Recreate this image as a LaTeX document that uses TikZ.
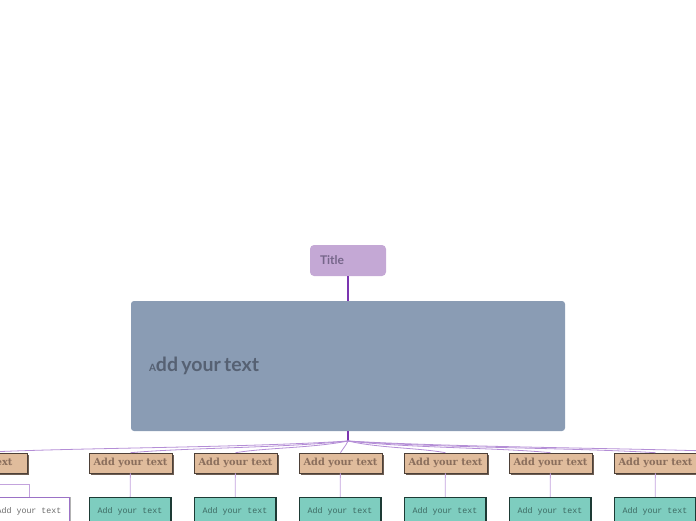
\documentclass[tikz,border=0pt]{standalone}
\usepackage{fontspec}
\setmainfont{Lato}
\newfontfamily\slabfont{DejaVu Serif}
\newfontfamily\monofont{Liberation Mono}
\usetikzlibrary{shadows,calc}
\definecolor{titlefill}{HTML}{C4A8D5}
\definecolor{titletext}{HTML}{76668A}
\definecolor{mainfill}{HTML}{8A9CB4}
\definecolor{maintext}{HTML}{566173}
\definecolor{brownfill}{HTML}{E0BC9C}
\definecolor{browntext}{HTML}{8A6E5C}
\definecolor{brownline}{HTML}{4D4037}
\definecolor{brownshadow}{HTML}{6D5D52}
\definecolor{tealfill}{HTML}{7ECDBF}
\definecolor{tealtext}{HTML}{3E6A63}
\definecolor{tealline}{HTML}{1D3B35}
\definecolor{darkpurple}{HTML}{7B35B0}
\definecolor{lightpurple}{HTML}{C3A3DD}
\definecolor{midpurple}{HTML}{B48ED6}
\definecolor{whiteborder}{HTML}{9B72C6}
\begin{document}
\begin{tikzpicture}[x=1pt,y=-1pt,
  titlebox/.style={fill=titlefill, rounded corners=4pt, minimum width=76pt, minimum height=31pt,
    text width=56pt, inner xsep=10pt, align=left, text=titletext, font=\bfseries\fontsize{12}{12}\selectfont},
  mainbox/.style={fill=mainfill, rounded corners=3pt, minimum width=434pt, minimum height=130pt,
    text width=398pt, inner xsep=18pt, align=left, text=maintext, font=\bfseries},
  brownbox/.style={fill=brownfill, draw=brownline, line width=0.6pt, minimum width=83pt, minimum height=20pt,
    inner sep=0pt, text=browntext, font=\slabfont\bfseries\fontsize{9.8}{10}\selectfont,
    general shadow={fill=brownshadow, shadow xshift=2pt, shadow yshift=-2pt}},
  tealbox/.style={fill=tealfill, draw=tealline, line width=0.5pt, minimum width=81pt, minimum height=28pt,
    inner sep=0pt, text=tealtext, font=\monofont\fontsize{8.3}{9}\selectfont,
    general shadow={fill=tealline, shadow xshift=1.5pt, shadow yshift=0pt}},
  whitebox/.style={fill=white, draw=whiteborder, line width=0.6pt, minimum width=81pt, minimum height=28pt,
    inner sep=0pt, text=gray!85!black, font=\monofont\fontsize{8.3}{9}\selectfont,
    general shadow={fill=gray!60, shadow xshift=1.5pt, shadow yshift=0pt}},
  branch/.style={draw=midpurple, line width=0.8pt},
  stem/.style={draw=darkpurple, line width=1.2pt},
  child/.style={draw=lightpurple, line width=0.8pt}]
\useasboundingbox (0,0) rectangle (696,520);
\clip (0,0) rectangle (696,520);

\node[titlebox] (title) at (348,260.5) {Title};
\node[mainbox] (main) at (348,366) {\raisebox{-2pt}{{\fontsize{10}{10}\selectfont A}{\fontsize{19.5}{20}\selectfont dd your text}}};
\draw[stem] (title.south) -- (main.north);
\coordinate (J) at (348,441);
\draw[stem] (main.south) -- (J);

\node[brownbox, minimum width=103pt] (b0) at (-24.5,463) {Add your text};
\node[brownbox] (b1) at (130.5,463) {Add your text};
\node[brownbox] (b2) at (235.5,463) {Add your text};
\node[brownbox] (b3) at (340.5,463) {Add your text};
\node[brownbox] (b4) at (445.5,463) {Add your text};
\node[brownbox] (b5) at (550.5,463) {Add your text};
\node[brownbox] (b6) at (655.5,463) {Add your text};
\coordinate (b7) at (760.5,453);

\draw[branch] (J) .. controls +(-110,7) and +(90,-5) .. (b0.north);
\draw[branch] (J) .. controls +(-65,7) and +(55,-5) .. (b1.north);
\draw[branch] (J) .. controls +(-35,7) and +(30,-5) .. (b2.north);
\draw[branch] (J) .. controls +(-3,6) and +(3,-5) .. (b3.north);
\draw[branch] (J) .. controls +(30,7) and +(-28,-5) .. (b4.north);
\draw[branch] (J) .. controls +(60,7) and +(-50,-5) .. (b5.north);
\draw[branch] (J) .. controls +(90,7) and +(-80,-5) .. (b6.north);
\draw[branch] (J) .. controls +(120,7) and +(-100,-5) .. (b7);

\node[whitebox] (w0) at (29,511) {Add your text};
\node[tealbox] (t1) at (130,511) {Add your text};
\node[tealbox] (t2) at (235,511) {Add your text};
\node[tealbox] (t3) at (340,511) {Add your text};
\node[tealbox] (t4) at (445,511) {Add your text};
\node[tealbox] (t5) at (550,511) {Add your text};
\node[tealbox] (t6) at (655,511) {Add your text};

\coordinate (k0) at ($(b0.south)+(0,11)$);
\draw[child] (b0.south) -- (k0) -| (w0.north);
\draw[child] (b1) -- (t1);
\draw[child] (b2) -- (t2);
\draw[child] (b3) -- (t3);
\draw[child] (b4) -- (t4);
\draw[child] (b5) -- (t5);
\draw[child] (b6) -- (t6);
\end{tikzpicture}
\end{document}
